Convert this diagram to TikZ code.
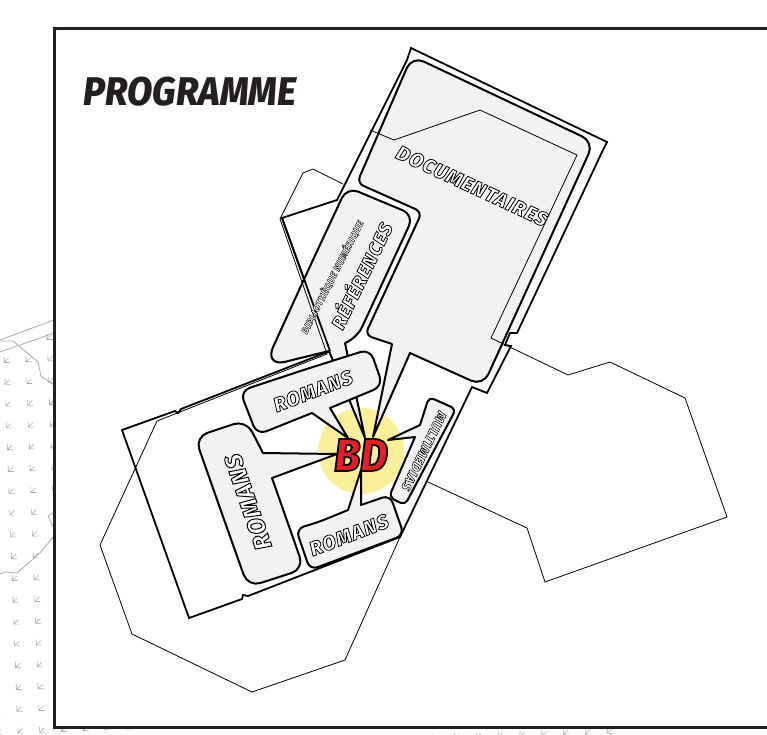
\documentclass[tikz,border=0pt]{standalone}
\usepackage{fontspec}
\usepackage{tikz}
\usepackage{xcolor}
\newfontfamily\comicfont{Fira Sans ExtraBold Italic}[FakeBold=4,LetterSpace=6]
\newfontfamily\bdfont{Fira Sans ExtraBold Italic}[FakeBold=4,FakeStretch=0.92]
\newfontfamily\titlefont{Fira Sans ExtraBold Italic}[FakeStretch=0.92]
\definecolor{framegray}{HTML}{231F20}
\definecolor{roomgray}{HTML}{F2F2F2}
\definecolor{mapgray}{HTML}{ABABAB}
\definecolor{halo}{HTML}{FBF09A}
\definecolor{bdred}{HTML}{ED1C24}
\tikzset{
  room/.style={draw=black,fill=roomgray,line width=2pt,line join=round},
  wall/.style={draw=black,line width=1.8pt,line join=miter},
  thinwall/.style={draw=black,line width=0.8pt},
  mapline/.style={draw=mapgray,line width=0.8pt},
  mapmark/.style={draw=mapgray,line width=0.6pt},
  roomtext/.style={text=white,inner sep=0pt},
}
% white letters, black outline
\newcommand{\inked}[1]{\special{pdf:code 0 0 0 RG}#1}
\begin{document}
\begin{tikzpicture}[x=1pt,y=-1pt]
\useasboundingbox (0,0) rectangle (767,734);
\clip (0,0) rectangle (767,734);
% map outside the frame
\foreach \i in {-1,...,27} {
  \foreach \j in {0,...,18} {
    \pgfmathsetmacro\mx{6.7+21.8*\i+0.8*\j}
    \pgfmathsetmacro\my{360+21.8*\j-0.8*\i}
    \draw[mapmark,shift={(\mx,\my)}] (-2.5,-3) -- (-2.5,2.5) -- (3,2.5) (-2.5,2.5) -- (2,-2);
  }
}
\draw[mapmark,shift={(49.5,337)}] (-2.5,-3) -- (-2.5,2.5) -- (3,2.5) (-2.5,2.5) -- (2,-2);
\draw[mapline] (0,340) -- (54,320);
\draw[mapline] (0,352) -- (54,333);
\draw[mapline] (0,341) -- (13,341) -- (38,362) -- (41,376) -- (54,385);
\draw[mapline] (0,574) -- (5,572) -- (17,573) -- (40,553) -- (54,536);
\draw[mapline] (54,512) -- (48,516) -- (53,527);
% frame
\draw[draw=framegray,fill=white,line width=3pt] (54,28) rectangle (790,727);
\node[text=framegray,font=\titlefont\fontsize{40}{40}\selectfont,inner sep=0pt] (title) at (190,92) {PROGRAMME};
% outer wall
\draw[wall] (411,48) -- (607,142) -- (602,152) -- (517,333) -- (510,333) -- (505,345) -- (511,346) -- (487,393) -- (472,387) -- (400,537) -- (248,596) -- (243,595) -- (242,599) -- (189,618) -- (122,430) -- (175,411) -- (178,413) -- (181,409) -- (330,351) -- (282,218) -- (337,200) -- (407,60) -- cycle;
% halo
\fill[halo] (361,451) circle (43);
% rooms
\draw[room] (503,99) [rounded corners=13pt] -- (594,142) -- (483,386) [sharp corners] -- (410,353) -- (373,437) -- (392,344) [rounded corners=7pt] -- (365,335) -- (422,212) -- (357,183) [rounded corners=13pt] -- (412,56) -- cycle;
\draw[room] (305,277) [rounded corners=12pt] -- (347,187) -- (414,215) -- (357,338) [sharp corners] -- (345,343) -- (365,438) -- (329,351) [rounded corners=22pt] -- (264,367) -- cycle;
\draw[room] (305,369.5) [rounded corners=10pt] -- (370,349) -- (383,386) [sharp corners] -- (330,408) -- (348,438) -- (312,413) [rounded corners=10pt] -- (257,435) -- (240,391) -- cycle;
\draw[room] (221,511) [rounded corners=13pt] -- (195,437) -- (246,420) [sharp corners] -- (263,453) -- (337,454) -- (272,478) [rounded corners=13pt] -- (304,569) -- (248,587) -- cycle;
\draw[room] (320,521.5) -- (348,510) -- (361,470) -- (361,505) [rounded corners=8pt] -- (390,495) -- (404,535) -- (310,570) -- (296,529) -- cycle;
\draw[room] (442.5,403) [rounded corners=5pt] -- (456,409) -- (405,505) -- (389,497) [sharp corners] -- (415,437) -- (388,440) -- (420,425) [rounded corners=5pt] -- (429,397) -- cycle;
% wall over the reference room
\draw[wall] (330,351) -- (282,218);
% thin outline of the next plan
\draw[thinwall] (370,130) -- (394,140) -- (480,110) -- (577,155) -- (491,338) -- (568,375) -- (610,362) -- (685,398) -- (727,517) -- (545,582) -- (527,528) -- (428,482);
\draw[thinwall] (400,537) -- (345,660) -- (252,692) -- (132,634) -- (100,545) -- (157,421) -- (327,354) -- (280,219) -- (303,173) -- (313,169) -- (343,184);
% labels
\node[roomtext,rotate=-25,font=\comicfont\fontsize{20}{20}\selectfont] (documentaires) at (472,186) {\inked{DOCUMENTAIRES}};
\node[roomtext,rotate=64,font=\comicfont\fontsize{19}{19}\selectfont] (references) at (360,275) {\inked{RÉFÉRENCES}};
\node[roomtext,rotate=63,font=\comicfont\fontsize{9.5}{9.5}\selectfont] (biblio) at (332,277) {\inked{BIBLIOTHÈQUE NUMÉRIQUE}};
\node[roomtext,rotate=21,font=\comicfont\fontsize{20}{20}\selectfont] (romansa) at (313,391) {\inked{ROMANS}};
\node[roomtext,rotate=109,font=\comicfont\fontsize{24}{24}\selectfont] (romansb) at (248,502) {\inked{ROMANS}};
\node[roomtext,rotate=21,font=\comicfont\fontsize{20}{20}\selectfont] (romansc) at (349,535) {\inked{ROMANS}};
\node[roomtext,rotate=244,font=\comicfont\fontsize{13}{13}\selectfont] (multimedias) at (424,451) {\inked{MULTIMEDIAS}};
\node[text=bdred,inner sep=0pt,font=\bdfont\fontsize{46}{46}\selectfont] (bd) at (361,455) {\inked{BD}};
\end{tikzpicture}
\end{document}
